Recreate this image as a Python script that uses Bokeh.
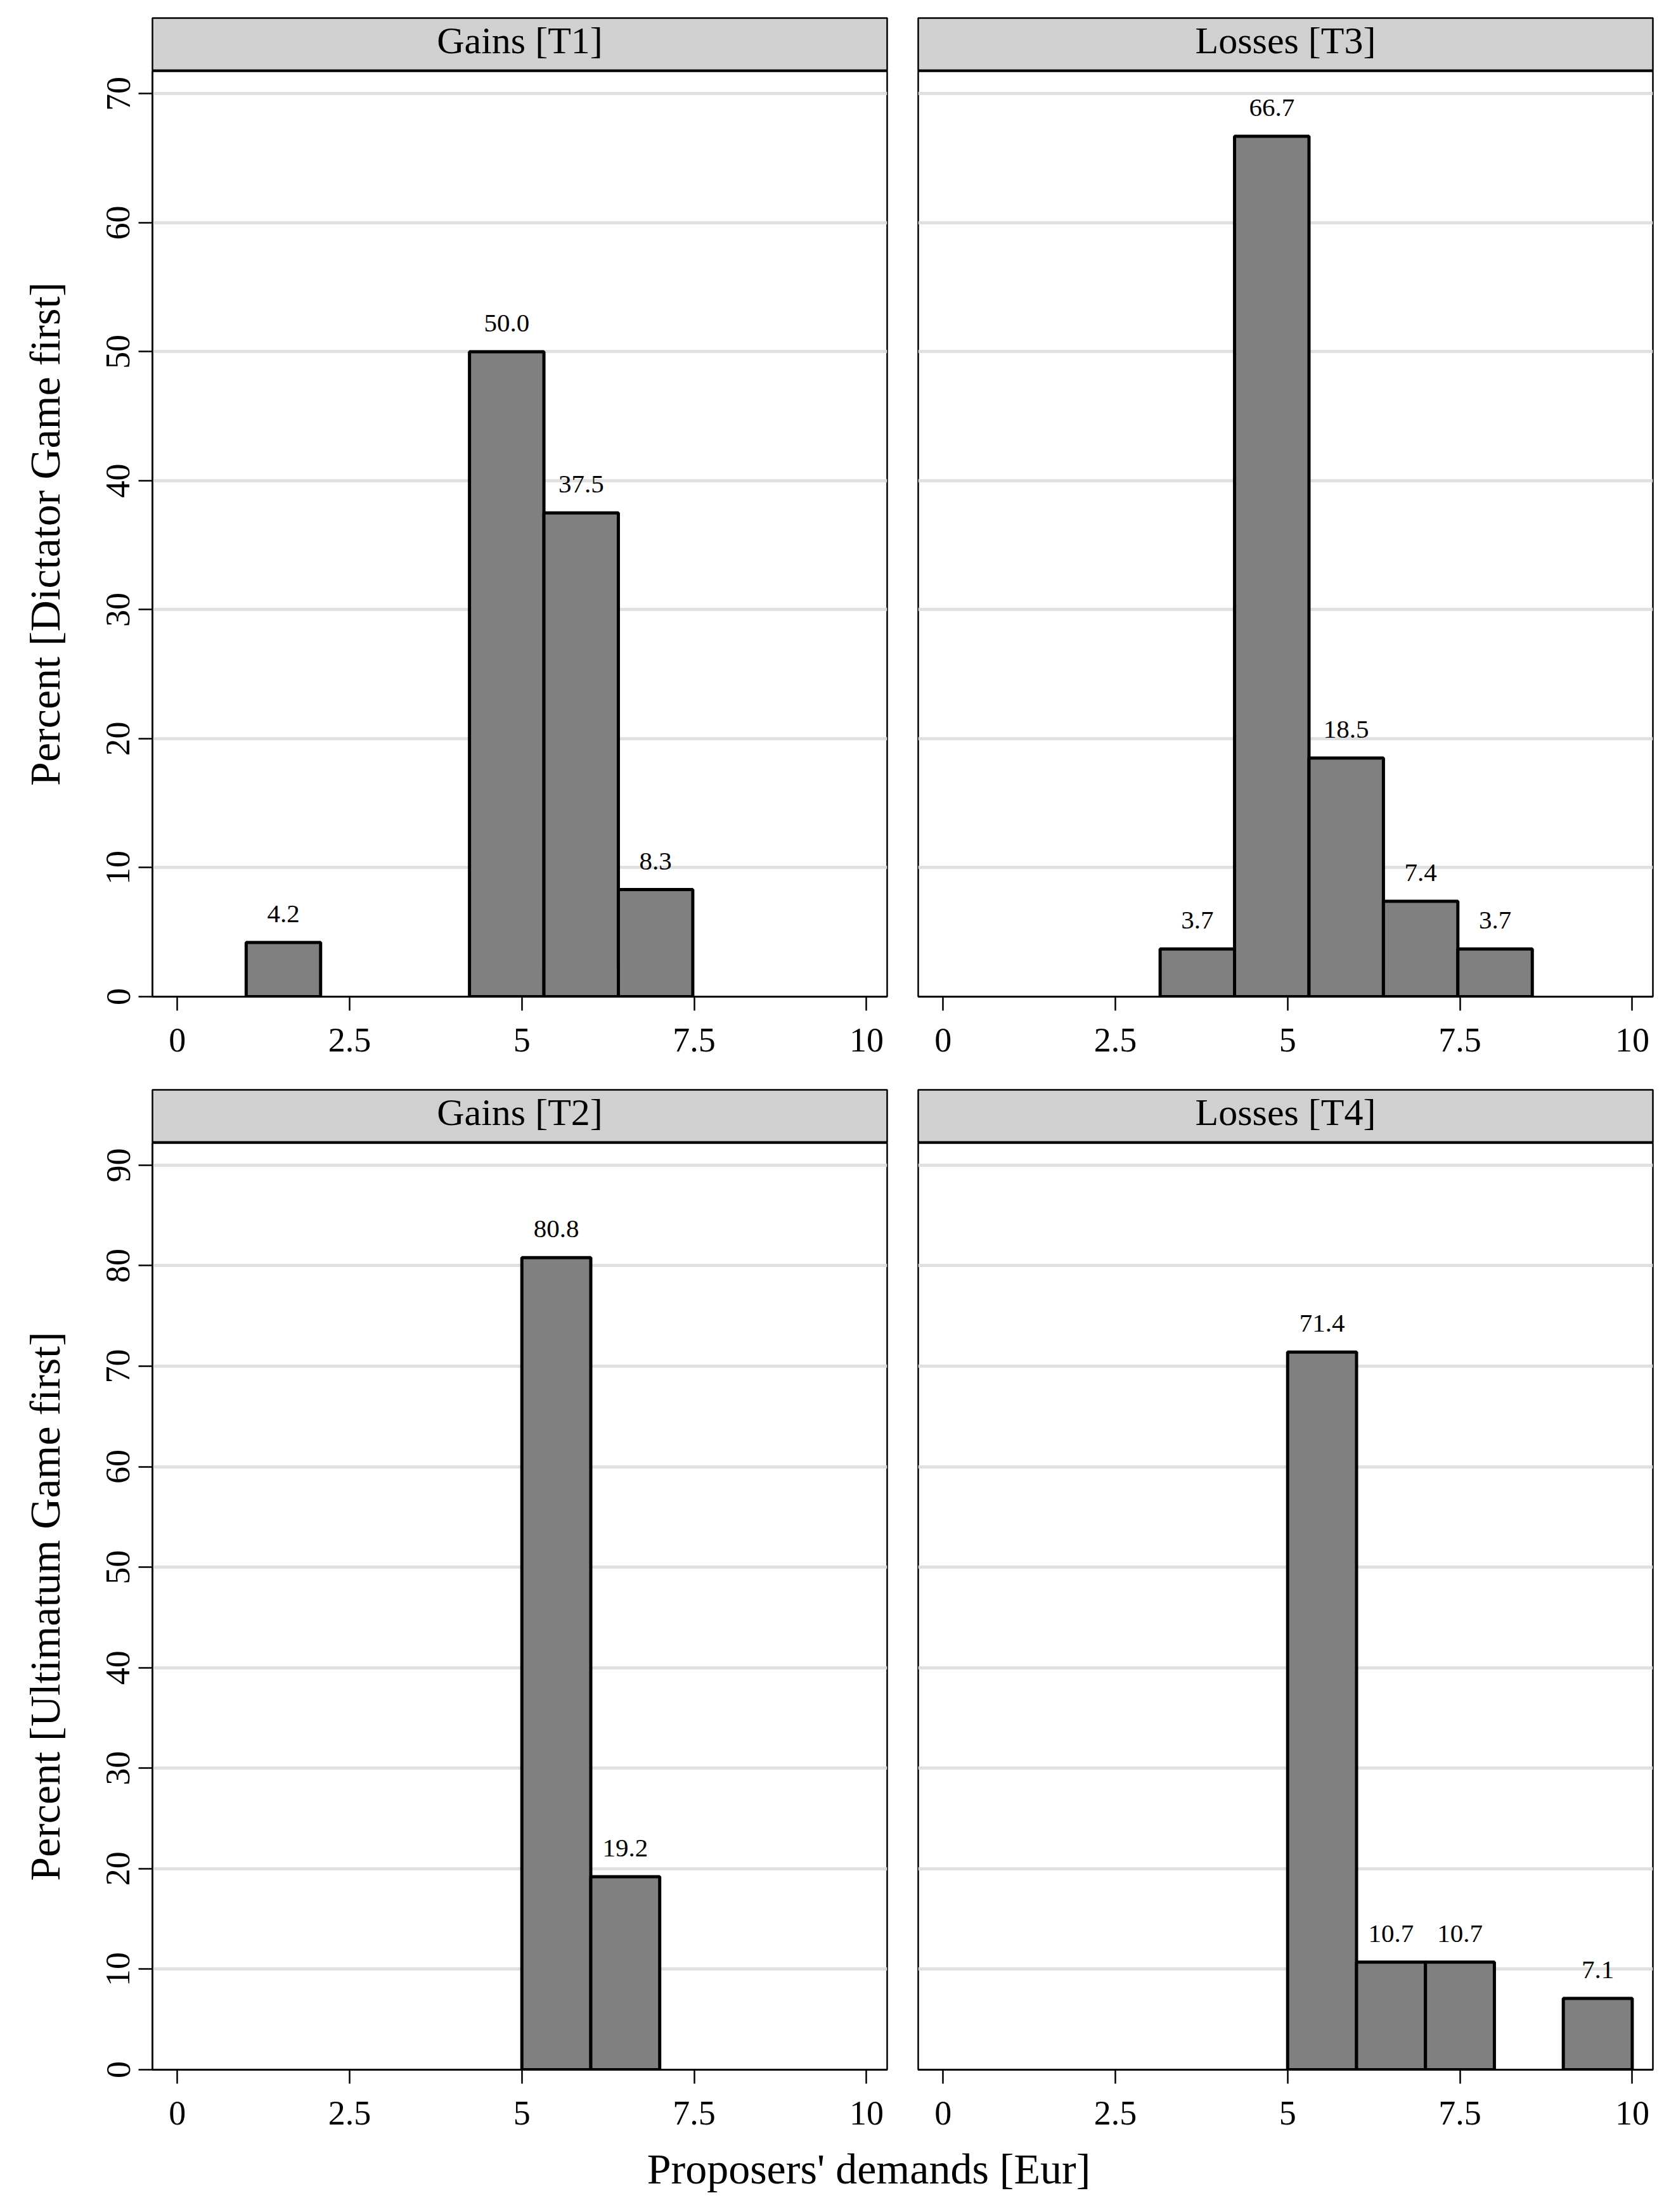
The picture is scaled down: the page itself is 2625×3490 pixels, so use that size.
from bokeh.plotting import figure
from bokeh.layouts import column, row
from bokeh.models import FixedTicker, ColumnDataSource, Range1d
from bokeh.core.properties import value
from bokeh.embed import file_html
from bokeh.resources import INLINE

FONT = "Liberation Serif"

# ---------------- data ----------------
panel_titles = ["Gains [T1]", "Losses [T3]", "Gains [T2]", "Losses [T4]"]
row_titles = ["Percent [Dictator Game first]", "Percent [Ultimatum Game first]"]
x_title = "Proposers' demands [Eur]"

t1_left = [1.0, 4.24, 5.32, 6.40]
t1_pct = [4.2, 50.0, 37.5, 8.3]
t1_binw = 1.08

t3_left = [3.15, 4.23, 5.31, 6.39, 7.47]
t3_pct = [3.7, 66.7, 18.5, 7.4, 3.7]
t3_binw = 1.08

t2_left = [5.0, 6.0]
t2_pct = [80.8, 19.2]
t2_binw = 1.0

t4_left = [5.0, 6.0, 7.0, 9.0]
t4_pct = [71.4, 10.7, 10.7, 7.1]
t4_binw = 1.0

x_ticks = [0, 2.5, 5, 7.5, 10]
x_tick_labels = ["0", "2.5", "5", "7.5", "10"]
y_ticks_top = [0, 10, 20, 30, 40, 50, 60, 70]
y_ticks_bottom = [0, 10, 20, 30, 40, 50, 60, 70, 80, 90]

# ---------------- layout constants ----------------
X_START, X_END = -0.36, 10.30
FRAME_W = 1159
STRIP_H = 84
LEFT_MB = 240


def make_strip(title, mb_left, mb_right, mb_top):
    s = figure(frame_width=FRAME_W, frame_height=STRIP_H,
               x_range=Range1d(0, 1), y_range=Range1d(0, 1),
               x_axis_location=None, y_axis_location=None,
               output_backend="svg", toolbar_location=None,
               min_border_left=mb_left, min_border_right=mb_right,
               min_border_top=mb_top, min_border_bottom=0)
    s.grid.visible = False
    s.background_fill_color = "#d0d0d0"
    s.border_fill_color = "white"
    s.outline_line_color = "black"
    s.outline_line_width = 2.5
    # thick rule under the strip
    s.quad(left=[0], right=[1], bottom=[0], top=[3.0 / STRIP_H],
           fill_color="black", line_color=None)
    s.text(x=[0.5], y=[0.577], text=[title], text_align="center",
           text_baseline="middle", text_font=value(FONT),
           text_font_size="60px", text_color="black")
    return s


def make_panel(lefts, pcts, binw, ymax, yticks, ylabel, frame_h, mb):
    p = figure(frame_width=FRAME_W, frame_height=frame_h,
               x_range=Range1d(X_START, X_END),
               y_range=Range1d(0, ymax),
               output_backend="svg", toolbar_location=None,
               min_border_left=mb[0], min_border_right=mb[1],
               min_border_top=mb[2], min_border_bottom=mb[3])
    p.background_fill_color = "white"
    p.border_fill_color = "white"
    p.outline_line_color = "black"
    p.outline_line_width = 2.5

    p.xgrid.visible = False
    p.ygrid.ticker = FixedTicker(ticks=yticks)
    p.ygrid.grid_line_color = "#e0e0e0"
    p.ygrid.grid_line_width = 5

    src = ColumnDataSource(dict(
        left=lefts,
        right=[l + binw for l in lefts],
        top=pcts,
        center=[l + binw / 2 for l in lefts],
        label=["%.1f" % v for v in pcts],
    ))
    p.quad(left="left", right="right", bottom=0, top="top", source=src,
           fill_color="#808080", line_color="black", line_width=5)
    p.text(x="center", y="top", text="label", source=src,
           text_align="center", text_baseline="alphabetic", y_offset=-45,
           text_font=value(FONT), text_font_size="41px", text_color="black")

    xa = p.xaxis[0]
    xa.ticker = FixedTicker(ticks=x_ticks)
    xa.major_label_overrides = {t: s for t, s in zip(x_ticks, x_tick_labels)}
    xa.major_tick_out = 22
    xa.major_tick_in = 0
    xa.minor_tick_out = 0
    xa.minor_tick_in = 0
    xa.major_tick_line_width = 2.5
    xa.axis_line_width = 3
    xa.major_label_text_font = FONT
    xa.major_label_text_font_size = "54px"
    xa.major_label_text_color = "black"
    xa.major_label_standoff = 28

    ya = p.yaxis[0]
    if ylabel is None:
        ya.visible = False
    else:
        ya.ticker = FixedTicker(ticks=yticks)
        ya.major_tick_out = 22
        ya.major_tick_in = 0
        ya.minor_tick_out = 0
        ya.minor_tick_in = 0
        ya.major_tick_line_width = 2.5
        ya.axis_line_width = 2.5
        ya.major_label_orientation = "vertical"
        ya.major_label_text_font = FONT
        ya.major_label_text_font_size = "54px"
        ya.major_label_text_color = "black"
        ya.major_label_standoff = 14
        ya.axis_label = ylabel
        ya.axis_label_text_font = FONT
        ya.axis_label_text_font_size = "68px"
        ya.axis_label_text_font_style = "normal"
        ya.axis_label_text_color = "black"
        ya.axis_label_standoff = 57
    return p


YMAX_TOP = 71.74
YMAX_BOT = 92.2
H_TOP = 1460
H_BOT = 1462

s_tl = make_strip(panel_titles[0], LEFT_MB, 24, 28)
s_tr = make_strip(panel_titles[1], 25, 10, 28)
tl = make_panel(t1_left, t1_pct, t1_binw, YMAX_TOP, y_ticks_top,
                row_titles[0], H_TOP, (LEFT_MB, 24, 0, 130))
tr = make_panel(t3_left, t3_pct, t3_binw, YMAX_TOP, y_ticks_top,
                None, H_TOP, (25, 10, 0, 130))

s_bl = make_strip(panel_titles[2], LEFT_MB, 24, 17)
s_br = make_strip(panel_titles[3], 25, 10, 17)
bl = make_panel(t2_left, t2_pct, t2_binw, YMAX_BOT, y_ticks_bottom,
                row_titles[1], H_BOT, (LEFT_MB, 24, 0, 118))
br = make_panel(t4_left, t4_pct, t4_binw, YMAX_BOT, y_ticks_bottom,
                None, H_BOT, (25, 10, 0, 118))

TOTAL_W = LEFT_MB + FRAME_W + 24 + 25 + FRAME_W + 10
TITLE_H = 95
tf = figure(frame_width=TOTAL_W, frame_height=TITLE_H,
            x_range=Range1d(0, TOTAL_W), y_range=Range1d(0, TITLE_H),
            x_axis_location=None, y_axis_location=None,
            output_backend="svg", toolbar_location=None,
            min_border_left=0, min_border_right=0, min_border_top=0,
            min_border_bottom=0)
tf.grid.visible = False
tf.outline_line_color = None
tf.background_fill_color = "white"
tf.border_fill_color = "white"
tf.text(x=[1370], y=[TITLE_H - 38], text=[x_title], text_align="center",
        text_baseline="middle", text_font=value(FONT), text_font_size="68px",
        text_color="black")

layout = column(
    row(column(s_tl, tl), column(s_tr, tr)),
    row(column(s_bl, bl), column(s_br, br)),
    tf,
)

open("out.html", "w").write(file_html(layout, INLINE))
